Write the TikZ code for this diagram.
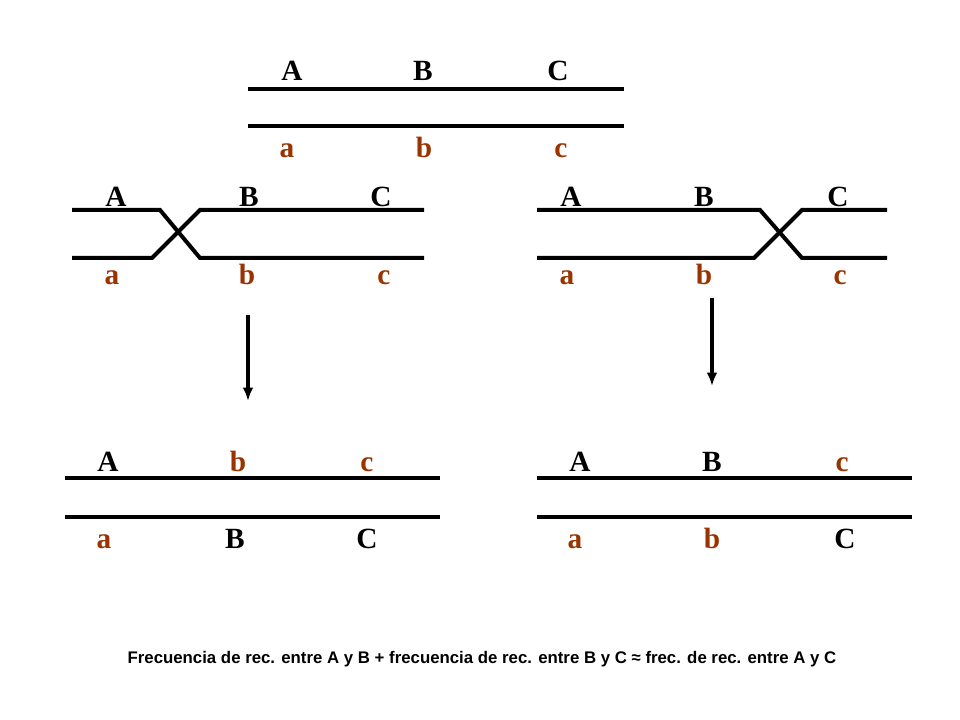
\documentclass[tikz,border=0pt]{standalone}
\usepackage{fontspec}
\usetikzlibrary{arrows.meta}
\setmainfont{Liberation Serif}
\newfontfamily\arialf{Liberation Sans}
\definecolor{brn}{HTML}{993300}
\begin{document}
\begin{tikzpicture}[x=0.75pt,y=-0.75pt,
  chr/.style={line width=3pt},
  up/.style={anchor=base,font=\fontsize{22}{22}\selectfont\bfseries,text=black,inner sep=0pt},
  lo/.style={anchor=base,font=\fontsize{22}{22}\selectfont\bfseries,text=brn,inner sep=0pt},
  arr/.style={line width=2.4pt,-{Latex[length=10pt,width=8pt]}}]
\useasboundingbox (0,0) rectangle (960,720);
% top
\draw[chr] (248,89) -- (624,89); \draw[chr] (248,126) -- (624,126);
\node[up] (tA) at (292,81) {A}; \node[up] (tB) at (423,81) {B}; \node[up] (tC) at (558,81) {C};
\node[lo] (ta) at (287,158) {a}; \node[lo] (tb) at (424,158) {b}; \node[lo] (tc) at (561,158) {c};
% middle left
\draw[chr] (72,210) -- (160,210) -- (200,258) -- (424,258);
\draw[chr] (72,258) -- (152,258) -- (200,210) -- (424,210);
\node[up] at (116,207) {A}; \node[up] at (249,207) {B}; \node[up] at (381,207) {C};
\node[lo] at (112,285) {a}; \node[lo] (lb) at (247,285) {b}; \node[lo] at (384,285) {c};
% middle right
\draw[chr] (537,210) -- (760,210) -- (802,258) -- (887,258);
\draw[chr] (537,258) -- (754,258) -- (802,210) -- (887,210);
\node[up] at (571,207) {A}; \node[up] at (704,207) {B}; \node[up] at (838,207) {C};
\node[lo] at (567,285) {a}; \node[lo] at (704,285) {b}; \node[lo] at (840,285) {c};
% arrows
\coordinate (a1s) at (248,315); \coordinate (a1e) at (248,401);
\coordinate (a2s) at (712,298); \coordinate (a2e) at (712,386);
\draw[arr,line width=2.4pt] (a1s) -- (a1e); \draw[arr,line width=2.4pt] (a2s) -- (a2e);
% bottom left
\draw[chr] (65,478) -- (440,478); \draw[chr] (65,517) -- (440,517);
\node[up] at (108,471) {A}; \node[lo] at (238,471) {b}; \node[lo] at (367,471) {c};
\node[lo] at (104,548) {a}; \node[up] at (235,548) {B}; \node[up] at (367,548) {C};
% bottom right
\draw[chr] (537,478) -- (912,478); \draw[chr] (537,517) -- (912,517);
\node[up] at (580,471) {A}; \node[up] at (712,471) {B}; \node[lo] at (842,471) {c};
\node[lo] at (575,548) {a}; \node[lo] at (712,548) {b}; \node[up] at (845,548) {C};
% footer
\node[font=\arialf\bfseries\fontsize{12.6}{14}\selectfont,inner sep=0pt,anchor=base] (ft) at (482,663) {Frecuencia de rec. entre A y B + frecuencia de rec. entre B y C ≈ frec. de rec. entre A y C};
\end{tikzpicture}
\end{document}
